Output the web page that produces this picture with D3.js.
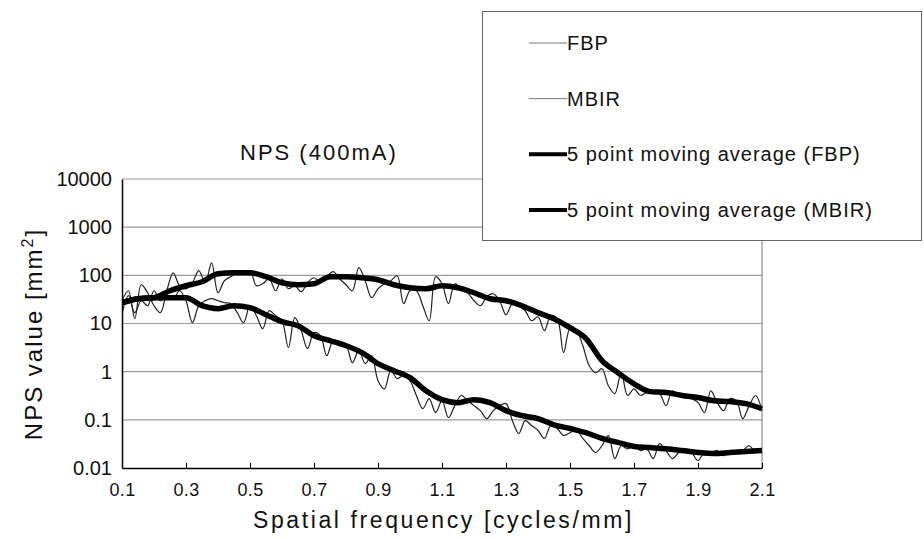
<!DOCTYPE html>
<html>
<head>
<meta charset="utf-8">
<script src="https://cdn.jsdelivr.net/npm/d3@7"></script>
<style>
  body { margin: 0; background: #fff; }
  svg { display: block; font-family: "Liberation Sans", Arial, sans-serif; }
</style>
</head>
<body>
<div id="chart"></div>
<script>
// raw NPS samples, every 0.02 cycles/mm from 0.1 to 2.1
var freq = d3.range(101).map(function (i) { return +(0.1 + i * 0.02).toFixed(2); });

var fbpRaw = [
  29.7, 47.9, 12.6, 63.8, 43.5, 23.4, 16.8, 47.9, 113, 60.8,
  52.7, 70.2, 125, 70.2, 182, 43.5, 77.3, 93.5, 113, 113,
  125, 60.8, 67, 85, 47.9, 85, 52.7, 60.8, 45.7, 70.2,
  89.1, 70.2, 93.5, 119, 85, 63.8, 47.9, 144, 77.3, 34.3,
  52.7, 67, 77.3, 98, 25.8, 47.9, 47.9, 23.4, 11.4, 93.5,
  67, 25.8, 67, 52.7, 43.5, 29.7, 23.4, 36, 41.5, 29.7,
  15.2, 25.8, 23.4, 18.4, 11.4, 13.8, 7.1, 14.5, 12.6, 2.48,
  7.8, 7.1, 3.46, 1.33, 0.95, 1.15, 0.51, 0.35, 0.95, 0.32,
  0.44, 0.32, 0.37, 0.35, 0.35, 0.197, 0.40, 0.32, 0.29, 0.275,
  0.23, 0.141, 0.40, 0.23, 0.155, 0.275, 0.25, 0.106, 0.197, 0.32,
  0.155
];

var mbirRaw = [
  16, 38, 16.8, 29.7, 23.4, 47.9, 29.7, 38, 32.7, 47.9,
  29.7, 10.4, 23.4, 29.7, 32.7, 29.7, 27, 25.8, 16.8, 10.4,
  23.4, 14.5, 7.8, 18.4, 14.5, 11.4, 3.15, 13.2, 7.1, 3.0,
  6.45, 5.58, 2.15, 4.4, 3.46, 3.46, 1.54, 2.73, 1.47, 2.15,
  0.65, 0.44, 1.05, 0.72, 0.83, 0.65, 0.32, 0.171, 0.275, 0.141,
  0.25, 0.111, 0.197, 0.32, 0.25, 0.197, 0.155, 0.106, 0.155, 0.197,
  0.217, 0.096, 0.052, 0.096, 0.076, 0.060, 0.041, 0.076, 0.066, 0.047,
  0.054, 0.060, 0.041, 0.029, 0.021, 0.029, 0.047, 0.0157, 0.029, 0.025,
  0.029, 0.023, 0.025, 0.0157, 0.032, 0.023, 0.0157, 0.021, 0.025, 0.021,
  0.0143, 0.021, 0.021, 0.023, 0.018, 0.023, 0.021, 0.023, 0.029, 0.021,
  0.023
];

// 5 point moving averages, every 0.05 cycles/mm
var maFreq = d3.range(41).map(function (i) { return +(0.1 + i * 0.05).toFixed(2); });

var fbpAvg = [
  27.0, 32.7, 34.3, 47.9, 60.8, 73.6, 108, 113, 113, 93.5,
  70.2, 63.8, 67.0, 93.5, 93.5, 89.1, 81.1, 63.8, 55.3, 52.7,
  60.8, 55.3, 43.5, 32.7, 29.7, 23.4, 16.8, 12.6, 8.18, 4.84,
  1.69, 0.95, 0.56, 0.385, 0.37, 0.32, 0.29, 0.25, 0.24, 0.217,
  0.17
];

var mbirAvg = [
  27.0, 32.7, 34.3, 34.3, 34.3, 23.4, 20.3, 23.4, 21.3, 15.2,
  10.9, 9.0, 5.58, 4.40, 3.46, 2.48, 1.47, 1.05, 0.75, 0.40,
  0.262, 0.227, 0.262, 0.227, 0.155, 0.122, 0.106, 0.079, 0.066, 0.054,
  0.041, 0.034, 0.028, 0.0265, 0.025, 0.023, 0.021, 0.020, 0.021, 0.022,
  0.023
];

var yTicks = [0.01, 0.1, 1, 10, 100, 1000, 10000];
var xTicks = [0.1, 0.3, 0.5, 0.7, 0.9, 1.1, 1.3, 1.5, 1.7, 1.9, 2.1];

var legendItems = [
  { label: "FBP", thick: false },
  { label: "MBIR", thick: false },
  { label: "5 point moving average (FBP)", thick: true },
  { label: "5 point moving average (MBIR)", thick: true }
];

var width = 924, height = 539,
    plot = { left: 122, right: 762, top: 179, bottom: 468 };

var svg = d3.select("#chart").append("svg")
    .attr("width", width)
    .attr("height", height);

var x = d3.scaleLinear().domain([0.1, 2.1]).range([plot.left, plot.right]);
var y = d3.scaleLog().domain([0.01, 10000]).range([plot.bottom, plot.top]);

// horizontal grid
svg.append("g").selectAll("line")
    .data(yTicks.slice(1))
    .enter().append("line")
    .attr("x1", plot.left).attr("x2", plot.right)
    .attr("y1", function (d) { return y(d); })
    .attr("y2", function (d) { return y(d); })
    .attr("stroke", "#9a9a9a")
    .attr("stroke-width", 1.2);

// right edge of the plot frame
svg.append("line")
    .attr("x1", plot.right).attr("x2", plot.right)
    .attr("y1", plot.top).attr("y2", plot.bottom)
    .attr("stroke", "#8a8a8a")
    .attr("stroke-width", 1.2);

var thinLine = d3.line()
    .x(function (d) { return x(d[0]); })
    .y(function (d) { return y(d[1]); })
    .curve(d3.curveCatmullRom.alpha(0.5));

var thickLine = d3.line()
    .x(function (d) { return x(d[0]); })
    .y(function (d) { return y(d[1]); })
    .curve(d3.curveMonotoneX);

function pairs(xs, ys) {
    return xs.map(function (f, i) { return [f, ys[i]]; });
}

svg.append("clipPath").attr("id", "plotclip")
    .append("rect")
    .attr("x", plot.left).attr("y", plot.top)
    .attr("width", plot.right - plot.left + 2)
    .attr("height", plot.bottom - plot.top);

var lines = svg.append("g").attr("clip-path", "url(#plotclip)");

[fbpRaw, mbirRaw].forEach(function (series) {
    lines.append("path")
        .attr("d", thinLine(pairs(freq, series)))
        .attr("fill", "none")
        .attr("stroke", "#222")
        .attr("stroke-width", 1.2);
});

[fbpAvg, mbirAvg].forEach(function (series) {
    lines.append("path")
        .attr("d", thickLine(pairs(maFreq, series)))
        .attr("fill", "none")
        .attr("stroke", "#000")
        .attr("stroke-width", 5.5)
        .attr("stroke-linejoin", "round");
});

// axes
var yAxis = svg.append("g")
    .attr("transform", "translate(" + plot.left + ",0)")
    .call(d3.axisLeft(y).tickValues(yTicks).tickSize(0).tickPadding(10)
        .tickFormat(function (d) { return String(d); }));
yAxis.select(".domain").attr("stroke", "#000").attr("stroke-width", 1.5);
yAxis.selectAll("text")
    .attr("font-size", 20)
    .attr("fill", "#111")
    .attr("font-family", "Liberation Sans, Arial, sans-serif");

var xAxis = svg.append("g")
    .attr("transform", "translate(0," + plot.bottom + ")")
    .call(d3.axisBottom(x).tickValues(xTicks).tickSizeInner(-5).tickSizeOuter(0)
        .tickPadding(15).tickFormat(d3.format(".1f")));
xAxis.select(".domain").attr("stroke", "#000").attr("stroke-width", 1.5);
xAxis.selectAll(".tick line").attr("stroke", "#000");
xAxis.selectAll("text")
    .attr("font-size", 18)
    .attr("letter-spacing", 0.4)
    .attr("fill", "#111")
    .attr("font-family", "Liberation Sans, Arial, sans-serif");

// titles
svg.append("text")
    .attr("x", 240).attr("y", 160)
    .attr("font-size", 22)
    .attr("letter-spacing", 2)
    .attr("fill", "#111")
    .text("NPS (400mA)");

svg.append("text")
    .attr("x", 253).attr("y", 528)
    .attr("font-size", 23)
    .attr("letter-spacing", 2.6)
    .attr("fill", "#111")
    .text("Spatial frequency [cycles/mm]");

var yTitle = svg.append("text")
    .attr("transform", "translate(42,334) rotate(-90)")
    .attr("text-anchor", "middle")
    .attr("font-size", 24)
    .attr("letter-spacing", 2)
    .attr("fill", "#111");
yTitle.append("tspan").text("NPS value [mm");
yTitle.append("tspan").attr("dy", -9).attr("font-size", 16).text("2");
yTitle.append("tspan").attr("dy", 9).text("]");

// legend
var legend = svg.append("g");
legend.append("rect")
    .attr("x", 482.5).attr("y", 11.5)
    .attr("width", 439).attr("height", 229)
    .attr("fill", "#fff")
    .attr("stroke", "#666")
    .attr("stroke-width", 1);

var rowY = d3.scalePoint().domain(d3.range(legendItems.length)).range([43, 210]);

var rows = legend.selectAll("g.item")
    .data(legendItems)
    .enter().append("g")
    .attr("class", "item")
    .attr("transform", function (d, i) { return "translate(0," + rowY(i) + ")"; });

rows.append("line")
    .attr("x1", 529).attr("x2", 567)
    .attr("stroke", function (d) { return d.thick ? "#000" : "#777"; })
    .attr("stroke-width", function (d) { return d.thick ? 4 : 1; });

rows.append("text")
    .attr("x", 567).attr("dy", "0.35em")
    .attr("font-size", 20)
    .attr("letter-spacing", 1)
    .attr("fill", "#111")
    .text(function (d) { return d.label; });
</script>
</body>
</html>
